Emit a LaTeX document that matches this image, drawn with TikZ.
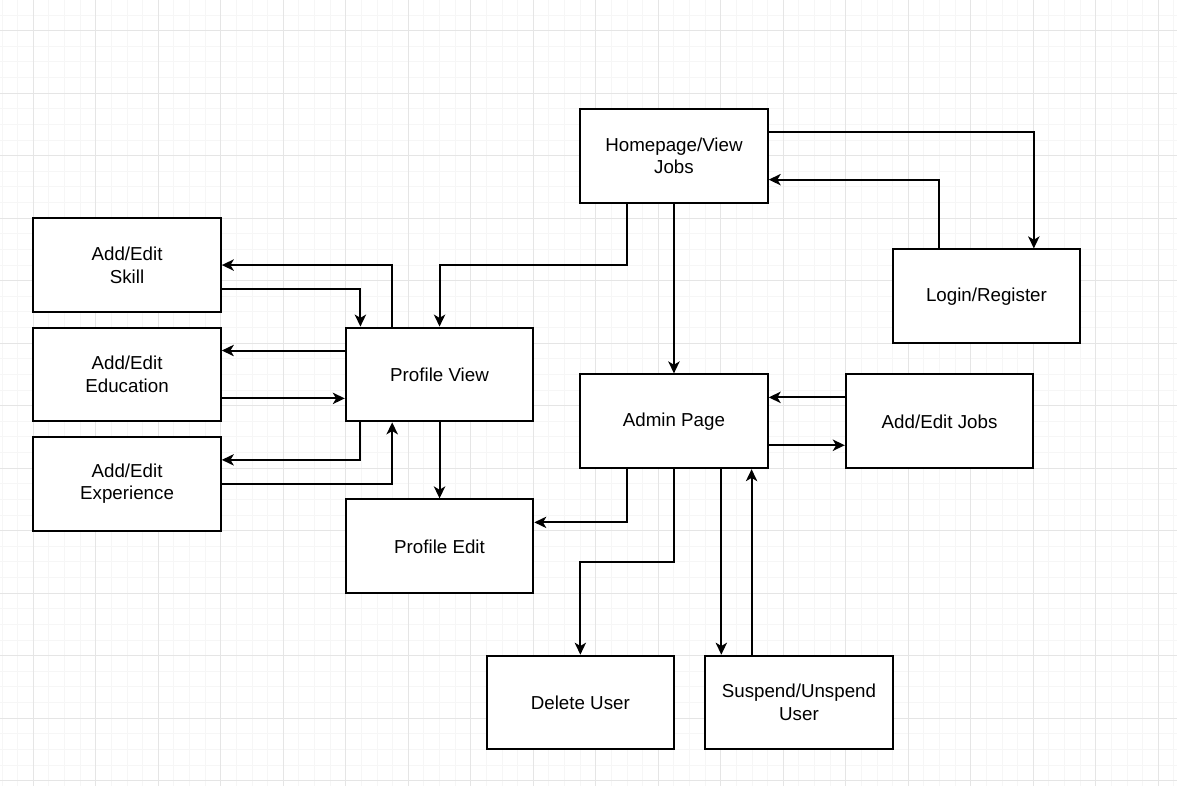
\documentclass[tikz,border=0pt]{standalone}
\usepackage{fontspec}
\setmainfont{Liberation Sans}
\usetikzlibrary{calc,arrows.meta}
\tikzset{
  box/.style={draw=black, line width=1.5pt, fill=white, minimum width=140.625pt, minimum height=70.3125pt, inner sep=0pt, align=center, font=\fontsize{14.06pt}{16.9pt}\selectfont},
  arr/.style={draw=black, line width=1.5pt, -{Stealth[length=9pt, width=8.5pt, inset=2.5pt]}},
  minorgrid/.style={draw={rgb,255:red,246;green,246;blue,246}, line width=0.75pt},
  majorgrid/.style={draw={rgb,255:red,229;green,229;blue,229}, line width=0.9pt}
}
\begin{document}
\begin{tikzpicture}[x=0.75pt, y=-0.75pt]
\useasboundingbox (0,0) rectangle (1177,786);
\fill[white] (0,0) rectangle (1177,786);
% grid
\foreach \i in {0,...,76} { \draw[minorgrid] ({2.05+15.625*\i},0) -- ({2.05+15.625*\i},786); }
\foreach \i in {0,...,51} { \draw[minorgrid] (0,{-0.55+15.625*\i}) -- (1177,{-0.55+15.625*\i}); }
\foreach \i in {0,...,18} { \draw[majorgrid] ({33.3+62.5*\i},0) -- ({33.3+62.5*\i},786); }
\foreach \i in {0,...,12} { \draw[majorgrid] (0,{30.7+62.5*\i}) -- (1177,{30.7+62.5*\i}); }
% nodes
\node[box] (home)  at (673.95,155.7)  {Homepage/View\\Jobs};
\node[box] (login) at (986.45,296.3)  {Login/Register};
\node[box] (skill) at (127.05,265.05) {Add/Edit\\Skill};
\node[box] (edu)   at (127.05,374.45) {Add/Edit\\Education};
\node[box] (exp)   at (127.05,483.8)  {Add/Edit\\Experience};
\node[box] (pview) at (439.55,374.45) {Profile View};
\node[box] (pedit) at (439.55,546.3)  {Profile Edit};
\node[box] (admin) at (673.95,421.3)  {Admin Page};
\node[box] (jobs)  at (939.55,421.3)  {Add/Edit Jobs};
\node[box] (del)   at (580.35,702.55) {Delete User};
\node[box] (susp)  at (798.95,702.55) {Suspend/Unspend\\User};
% anchor points
\coordinate (hR25) at ($(home.north east)!0.25!(home.south east)$);
\coordinate (hR75) at ($(home.north east)!0.75!(home.south east)$);
\coordinate (hB25) at ($(home.south west)!0.25!(home.south east)$);
\coordinate (lT25) at ($(login.north west)!0.25!(login.north east)$);
\coordinate (lT75) at ($(login.north west)!0.75!(login.north east)$);
\coordinate (pT25) at ($(pview.north west)!0.25!(pview.north east)$);
\coordinate (pTa)  at ($(pview.north west)+(15.6,0)$);
\coordinate (pBa)  at ($(pview.south west)+(15.6,0)$);
\coordinate (pB25) at ($(pview.south west)!0.25!(pview.south east)$);
\coordinate (pL25) at ($(pview.north west)!0.25!(pview.south west)$);
\coordinate (pL75) at ($(pview.north west)!0.75!(pview.south west)$);
\coordinate (sR75) at ($(skill.north east)!0.75!(skill.south east)$);
\coordinate (eR25) at ($(edu.north east)!0.25!(edu.south east)$);
\coordinate (eR75) at ($(edu.north east)!0.75!(edu.south east)$);
\coordinate (xR25) at ($(exp.north east)!0.25!(exp.south east)$);
\coordinate (aR25) at ($(admin.north east)!0.25!(admin.south east)$);
\coordinate (aR75) at ($(admin.north east)!0.75!(admin.south east)$);
\coordinate (jL25) at ($(jobs.north west)!0.25!(jobs.south west)$);
\coordinate (jL75) at ($(jobs.north west)!0.75!(jobs.south west)$);
\coordinate (aB25) at ($(admin.south west)!0.25!(admin.south east)$);
\coordinate (aB75) at ($(admin.south west)!0.75!(admin.south east)$);
\coordinate (eeR25) at ($(pedit.north east)!0.25!(pedit.south east)$);
\coordinate (sT25) at ($(susp.north west)!0.25!(susp.north east)$);
% connectors
\draw[arr] (hR25) -| (lT75);
\draw[arr] (lT25) |- (hR75);
\draw[arr] (hB25) |- ($(hB25)!0.5!(pview.north)$) -| (pview.north);
\draw[arr] (home.south) -- (admin.north);
\draw[arr] (pT25) |- (skill.east);
\draw[arr] (sR75) -| (pTa);
\draw[arr] (pL25) -- (eR25);
\draw[arr] (eR75) -- (pL75);
\draw[arr] (pBa) |- (xR25);
\draw[arr] (exp.east) -| (pB25);
\draw[arr] (pview.south) -- (pedit.north);
\draw[arr] (jL25) -- (aR25);
\draw[arr] (aR75) -- (jL75);
\draw[arr] (aB25) |- (eeR25);
\draw[arr] (admin.south) |- ($(admin.south)!0.5!(del.north)$) -| (del.north);
\draw[arr] (aB75) -- (aB75 |- susp.north);
\draw[arr] (sT25) -- (sT25 |- admin.south);
\end{tikzpicture}
\end{document}
